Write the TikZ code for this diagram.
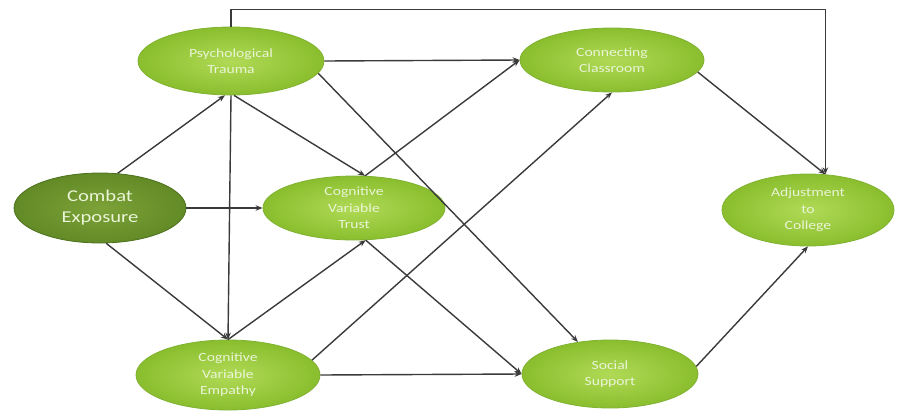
\documentclass[tikz,border=0pt]{standalone}
\usepackage{fontspec}
\setmainfont{Carlito}
\newfontfamily\bubblefont[FakeStretch=1.25]{Carlito}
\usetikzlibrary{shapes.geometric,arrows.meta}

\definecolor{leafin}{RGB}{176,218,86}
\definecolor{leafout}{RGB}{138,190,46}
\definecolor{leafedge}{RGB}{128,178,50}
\definecolor{mossin}{RGB}{124,162,56}
\definecolor{mossout}{RGB}{98,138,38}
\definecolor{mossedge}{RGB}{78,112,30}
\definecolor{paletext}{RGB}{234,244,214}
\definecolor{linkgray}{RGB}{58,58,58}

\tikzset{
  bubble/.style={ellipse, inner sep=0pt, shade, inner color=leafin, outer color=leafout,
    draw=leafedge, line width=0.8pt, text=paletext, align=center,
    font=\bubblefont\fontsize{12.5}{16.5}\selectfont},
  darkbubble/.style={bubble, inner color=mossin, outer color=mossout, draw=mossedge,
    font=\bubblefont\fontsize{16.5}{21}\selectfont},
  link/.style={draw=linkgray, line width=1.4pt, -{Stealth[length=7pt,width=5.5pt]}}
}

\begin{document}
\begin{tikzpicture}[x=1pt,y=-1pt]
  \useasboundingbox (0,0) rectangle (898,416);

  % factors
  \node[darkbubble, minimum width=172pt, minimum height=70pt] (ce) at (100,208) {Combat\\Exposure};
  \node[bubble, minimum width=186pt, minimum height=68pt] (pt) at (231,61) {Psychological\\Trauma};
  \node[bubble, minimum width=182pt, minimum height=64pt] (tr) at (354,208) {Cognitive\\Variable\\Trust};
  \node[bubble, minimum width=184pt, minimum height=70pt] (em) at (228,375) {Cognitive\\Variable\\Empathy};
  \node[bubble, minimum width=184pt, minimum height=64pt] (cc) at (612,60) {Connecting\\Classroom};
  \node[bubble, minimum width=176pt, minimum height=68pt] (ss) at (610,374) {Social\\Support};
  \node[bubble, minimum width=172pt, minimum height=72pt] (adj) at (808,210) {Adjustment\\to\\College};

  % paths
  \draw[link] (ce.63) -- (pt.260);
  \draw[link] (ce.east) -- (tr.west);
  \draw[link] (ce.-80) -- (em.north);
  \draw[link] (pt.south) -- (em.north);
  \draw[link] (pt.-85) -- (tr.71);
  \draw[link] (pt.east) -- (cc.west);
  \draw[link] (pt.-8) -- (ss.135);
  \draw[link] (pt.north) -- ++(0,-17) -| (adj.64);
  \draw[link] (tr.71) -- (cc.west);
  \draw[link] (tr.-70) -- (ss.west);
  \draw[link] (em.north) -- (tr.-70);
  \draw[link] (em.10) -- (cc.south);
  \draw[link] (em.east) -- (ss.west);
  \draw[link] (cc.-8) -- (adj.64);
  \draw[link] (ss.5) -- (adj.south);
\end{tikzpicture}
\end{document}
